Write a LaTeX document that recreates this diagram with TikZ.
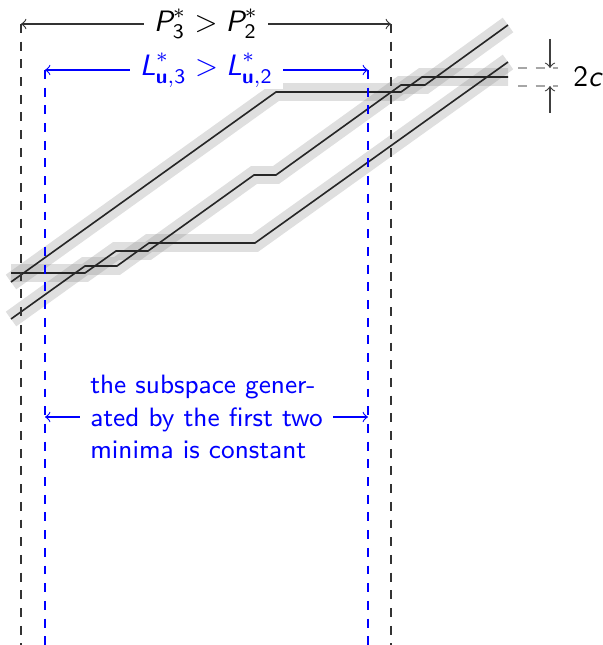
\documentclass[tikz,border=0pt]{standalone}
\usepackage{amsmath}

% sans italic letter in math, as in the slides
\newcommand{\sv}[1]{\text{\itshape #1}}

\begin{document}
\begin{tikzpicture}[
    x=0.339pt, y=-0.339pt,
    font=\sffamily,
    band/.style={
        draw=black!50,
        draw opacity=0.25,
        line width=6.1pt
    },
    traj/.style={
        draw=black!85,
        line width=0.55pt
    },
    pbound/.style={
        draw=black!80,
        dashed,
        line width=0.4pt
    },
    lbound/.style={
        draw=blue,
        dashed,
        line width=0.4pt
    },
    span/.style={
        <->,
        line width=0.4pt
    },
    spanlabel/.style={
        midway,
        fill=white,
        inner ysep=0.5pt
    },
    cmark/.style={
        draw=black!35,
        dashed,
        line width=0.4pt
    }
]
\useasboundingbox (0,0) rectangle (602,645);

% Trajectories
\def\trajT{(11,282) -- (276,92) -- (401,92) -- (422,77) -- (508,77)}
\def\trajM{(11,273) -- (85,273) -- (116,251) -- (148,251) -- (254,175) -- (276,175) -- (401,85) -- (425,85) -- (508,25)}
\def\trajB{(11,319) -- (85,266) -- (117,266) -- (149,243) -- (255,243) -- (508,62)}
\foreach \tr in {\trajT,\trajM,\trajB} \draw[band] \tr;
\foreach \tr in {\trajT,\trajM,\trajB} \draw[traj] \tr;

% Bounds
\coordinate (pL) at (21,24);
\coordinate (pR) at (391,24);
\coordinate (lL) at (45,70);
\coordinate (lR) at (368,70);
\coordinate (mL) at (45,417);
\coordinate (mR) at (368,417);
\draw[pbound] (pL) -- ++(0,621);
\draw[pbound] (pR) -- ++(0,621);
\draw[lbound] (lL) -- ++(0,575);
\draw[lbound] (lR) -- ++(0,575);

% Spans
\draw[span, black!80] (pL) -- (pR)
    node[spanlabel, text=black] (plabel) {$\sv{P}^*_{\text{3}} > \sv{P}^*_{\text{2}}$};
\draw[span, blue] (lL) -- (lR)
    node[spanlabel] (llabel) {$\sv{L}^*_{\text{\bfseries u},\text{3}} > \sv{L}^*_{\text{\bfseries u},\text{2}}$};
\draw[span, blue] (mL) -- (mR)
    node[spanlabel, align=left, font=\sffamily\small] (mlabel) {the subspace gener-\\ated by the first two\\minima is constant};

% Width of a band
\coordinate (cT) at (518,68);
\coordinate (cB) at (518,86);
\coordinate (aT) at (550,39);
\coordinate (aB) at (550,113);
\draw[cmark] (cT) -- ++(40,0);
\draw[cmark] (cB) -- ++(40,0);
\draw[->, black!75, line width=0.4pt] (aT) -- (aT |- cT);
\draw[->, black!75, line width=0.4pt] (aB) -- (aB |- cB);
\node[anchor=west] (twoc) at (563,77) {2\textit{c}};

\end{tikzpicture}
\end{document}
